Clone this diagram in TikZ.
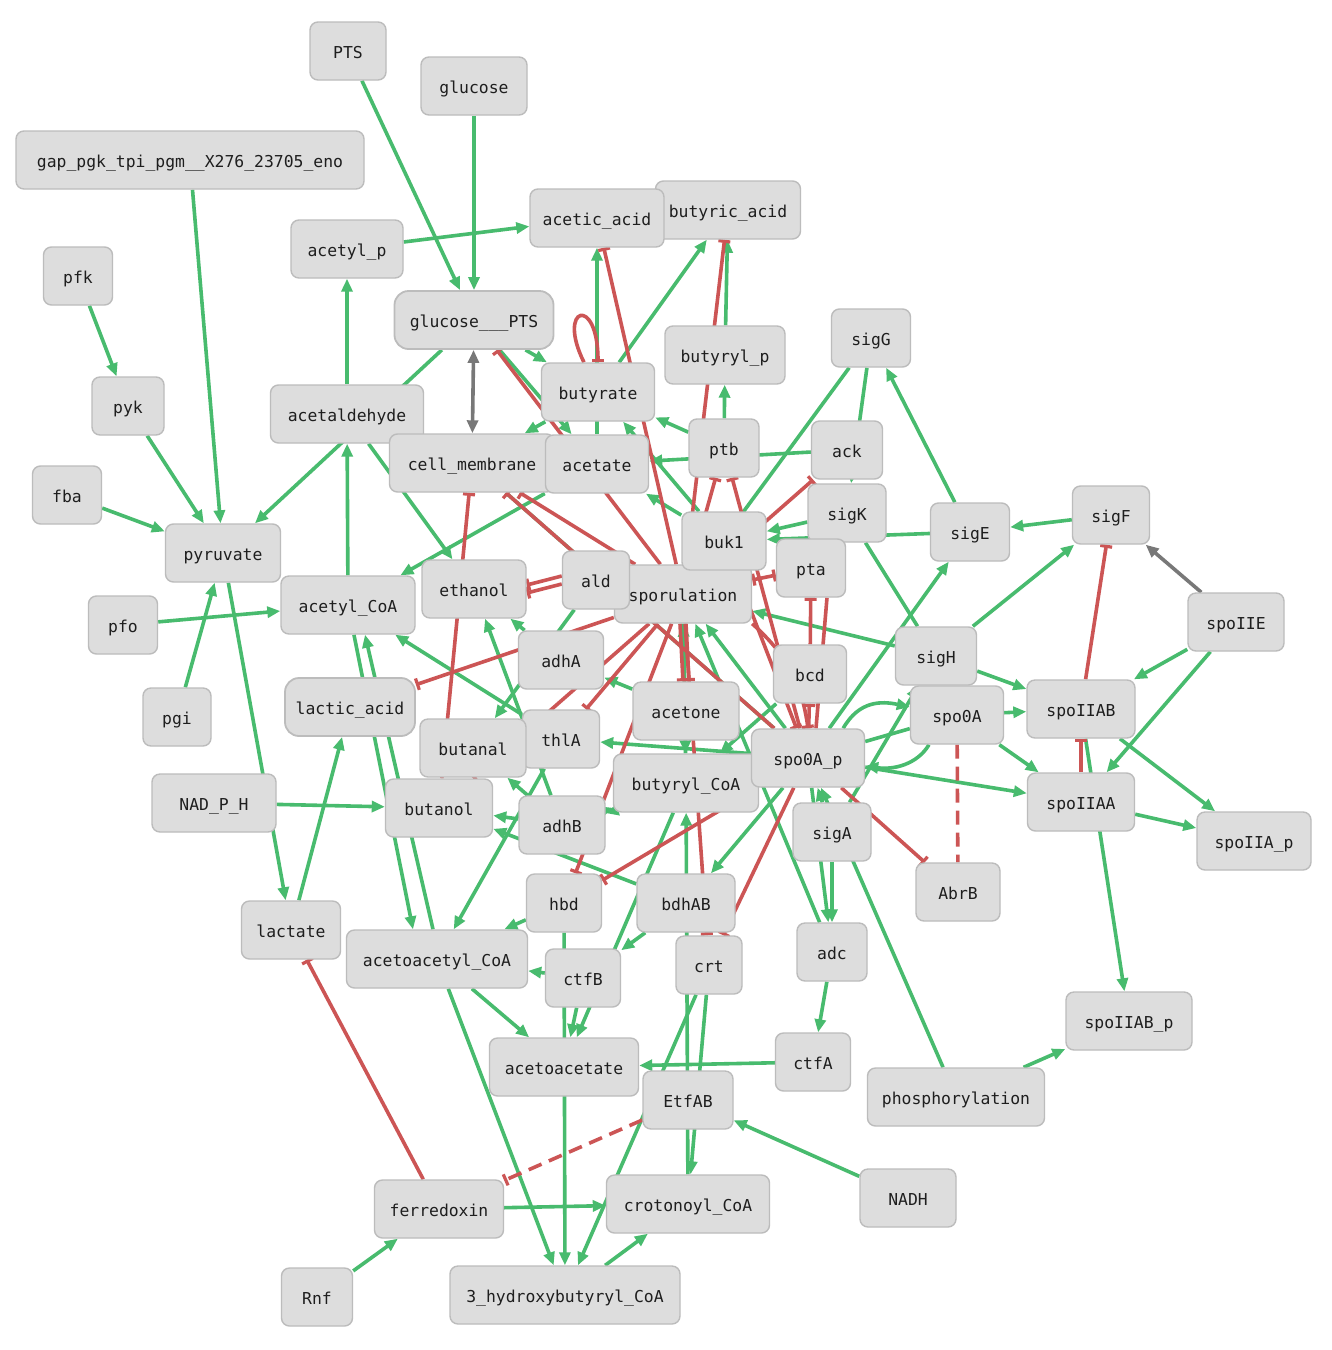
\documentclass[tikz,border=0pt]{standalone}
\usepackage{fontspec}
\setmonofont{DejaVu Sans Mono}
\usetikzlibrary{arrows.meta,backgrounds}
\definecolor{eg}{RGB}{72,187,110}
\definecolor{er}{RGB}{204,85,85}
\definecolor{egr}{RGB}{120,120,120}
\definecolor{nfill}{RGB}{221,221,221}
\definecolor{nbord}{RGB}{188,188,188}
\definecolor{ntext}{RGB}{30,30,30}
\begin{document}
\begin{tikzpicture}[x=0.5pt,y=-0.5pt,
  nd/.style={draw=nbord, fill=nfill, rounded corners=4pt, line width=0.7pt, minimum height=29pt, inner sep=0pt, text height=7pt, text depth=0pt, text=ntext, font=\ttfamily\fontsize{8.2}{9}\selectfont},
  ndc/.style={nd, rounded corners=7pt, line width=0.9pt},
  act/.style={draw=eg, line width=1.8pt, -{Triangle[length=6.5pt,width=5.5pt]}},
  ln/.style={draw=eg, line width=1.8pt},
  inh/.style={draw=er, line width=1.8pt, -{Bar[width=6pt,line width=1.6pt]}},
  inhb/.style={draw=er, line width=1.8pt, {Bar[width=6pt,line width=1.6pt]}-{Bar[width=6pt,line width=1.6pt]}},
  rln/.style={draw=er, line width=1.8pt},
  inhd/.style={inh, dash pattern=on 7pt off 4pt},
  rdash/.style={rln, dash pattern=on 7pt off 4pt},
  gra/.style={draw=egr, line width=1.8pt, -{Triangle[length=6.5pt,width=5.5pt]}},
  grab/.style={draw=egr, line width=1.8pt, {Triangle[length=6.5pt,width=5.5pt]}-{Triangle[length=6.5pt,width=5.5pt]}}
]
\useasboundingbox (0,0) rectangle (1332,1350);

% nodes
\node[nd, minimum width=38pt] (PTS) at (348,51) {PTS};
\node[nd, minimum width=53pt] (glucose) at (474,86) {glucose};
\node[nd, minimum width=174pt] (gap) at (190,160) {gap\_pgk\_tpi\_pgm\_\_X276\_23705\_eno};
\node[nd, minimum width=72.5pt] (butyric_acid) at (728,210) {butyric\_acid};
\node[nd, minimum width=67pt] (acetic_acid) at (597,218) {acetic\_acid};
\node[nd, minimum width=56pt] (acetyl_p) at (347,249) {acetyl\_p};
\node[nd, minimum width=34.5pt] (pfk) at (78,276) {pfk};
\node[ndc, minimum width=79.5pt] (glucose___PTS) at (474,320) {glucose\_\_\_PTS};
\node[nd, minimum width=60pt] (butyryl_p) at (725,355) {butyryl\_p};
\node[nd, minimum width=39.5pt] (sigG) at (871,338) {sigG};
\node[nd, minimum width=36pt] (pyk) at (128,406) {pyk};
\node[nd, minimum width=56.5pt] (butyrate) at (598,392) {butyrate};
\node[nd, minimum width=76.5pt] (acetaldehyde) at (347,414) {acetaldehyde};
\node[nd, minimum width=35pt] (ptb) at (724,448) {ptb};
\node[nd, minimum width=35.5pt] (ack) at (847,450) {ack};
\node[nd, minimum width=82.5pt] (cell_membrane) at (472,463) {cell\_membrane};
\node[nd, minimum width=51.5pt] (acetate) at (597,464) {acetate};
\node[nd, minimum width=34.5pt] (fba) at (67,495) {fba};
\node[nd, minimum width=39pt] (sigK) at (847,513) {sigK};
\node[nd, minimum width=39.5pt] (sigE) at (970,532) {sigE};
\node[nd, minimum width=38.5pt] (sigF) at (1111,515) {sigF};
\node[nd, minimum width=57.5pt] (pyruvate) at (223,553) {pyruvate};
\node[nd, minimum width=68.5pt] (sporulation) at (683,594) {sporulation};
\node[nd, minimum width=42pt] (buk1) at (724,541) {buk1};
\node[nd, minimum width=34.5pt] (pta) at (811,568) {pta};
\node[nd, minimum width=33.5pt] (ald) at (596,580) {ald};
\node[nd, minimum width=52pt] (ethanol) at (474,589) {ethanol};
\node[nd, minimum width=67pt] (acetyl_CoA) at (348,605) {acetyl\_CoA};
\node[nd, minimum width=34.5pt] (pfo) at (123,625) {pfo};
\node[nd, minimum width=48pt] (spoIIE) at (1236,622) {spoIIE};
\node[nd, minimum width=40.5pt] (sigH) at (936,656) {sigH};
\node[nd, minimum width=42.5pt] (adhA) at (561,660) {adhA};
\node[nd, minimum width=36.5pt] (bcd) at (810,674) {bcd};
\node[nd, minimum width=46.5pt] (spo0A) at (957,715) {spo0A};
\node[nd, minimum width=54pt] (spoIIAB) at (1081,709) {spoIIAB};
\node[ndc, minimum width=65pt] (lactic_acid) at (350,707) {lactic\_acid};
\node[nd, minimum width=53pt] (acetone) at (686,711) {acetone};
\node[nd, minimum width=34pt] (pgi) at (177,717) {pgi};
\node[nd, minimum width=38.5pt] (thlA) at (561,739) {thlA};
\node[nd, minimum width=53pt] (butanal) at (473,748) {butanal};
\node[nd, minimum width=72.5pt] (butyryl_CoA) at (686,783) {butyryl\_CoA};
\node[nd, minimum width=56.5pt] (spo0A_p) at (808,758) {spo0A\_p};
\node[nd, minimum width=62pt] (NAD_P_H) at (214,803) {NAD\_P\_H};
\node[nd, minimum width=53.5pt] (butanol) at (439,808) {butanol};
\node[nd, minimum width=53.5pt] (spoIIAA) at (1081,802) {spoIIAA};
\node[nd, minimum width=43pt] (adhB) at (562,825) {adhB};
\node[nd, minimum width=39pt] (sigA) at (832,832) {sigA};
\node[nd, minimum width=57pt] (spoIIA_p) at (1254,841) {spoIIA\_p};
\node[nd, minimum width=42pt] (AbrB) at (958,892) {AbrB};
\node[nd, minimum width=37.5pt] (hbd) at (564,903) {hbd};
\node[nd, minimum width=49pt] (bdhAB) at (686,903) {bdhAB};
\node[nd, minimum width=49.5pt] (lactate) at (291,930) {lactate};
\node[nd, minimum width=90.5pt] (acetoacetyl_CoA) at (437,959) {acetoacetyl\_CoA};
\node[nd, minimum width=35pt] (adc) at (832,952) {adc};
\node[nd, minimum width=33pt] (crt) at (709,965) {crt};
\node[nd, minimum width=37.5pt] (ctfB) at (583,978) {ctfB};
\node[nd, minimum width=63pt] (spoIIAB_p) at (1129,1021) {spoIIAB\_p};
\node[nd, minimum width=37.5pt] (ctfA) at (813,1062) {ctfA};
\node[nd, minimum width=74.5pt] (acetoacetate) at (564,1067) {acetoacetate};
\node[nd, minimum width=88.5pt] (phosphorylation) at (956,1097) {phosphorylation};
\node[nd, minimum width=45pt] (EtfAB) at (688,1100) {EtfAB};
\node[nd, minimum width=48pt] (NADH) at (908,1198) {NADH};
\node[nd, minimum width=64.5pt] (ferredoxin) at (439,1209) {ferredoxin};
\node[nd, minimum width=81.5pt] (crotonoyl_CoA) at (688,1204) {crotonoyl\_CoA};
\node[nd, minimum width=35.5pt] (Rnf) at (317,1297) {Rnf};
\node[nd, minimum width=115pt] (hbcoa) at (565,1295) {3\_hydroxybutyryl\_CoA};

\begin{pgfonlayer}{background}
\fill[white] (0,0) rectangle (1332,1350);
% green activations
\draw[act] (PTS) -- (glucose___PTS);
\draw[act] (glucose) -- (glucose___PTS);
\draw[act] (gap) -- (pyruvate);
\draw[act] (acetyl_p) -- (acetic_acid);
\draw[act] (pfk) -- (pyk);
\draw[act] (pyk) -- (pyruvate);
\draw[act] (fba) -- (pyruvate);
\draw[act] (pfo) -- (acetyl_CoA);
\draw[act] (pgi) -- (pyruvate);
\draw[act] (acetaldehyde) -- (acetyl_p);
\draw[act] (glucose___PTS) -- (pyruvate);
\draw[act] (acetyl_CoA) -- (acetaldehyde);
\draw[act] (acetaldehyde) -- (ethanol);
\draw[act] (acetate) -- (acetyl_CoA);
\draw[act] (acetate) -- (acetic_acid);
\draw[act] (butyrate) -- (butyric_acid);
\draw[act] (butyryl_p) -- (butyric_acid);
\draw[act] (ptb) -- (butyryl_p);
\draw[act] (ptb) -- (butyrate);
\draw[act] (ack) -- (acetate);
\draw[act] (buk1) -- (butyrate);
\draw[act] (buk1) -- (acetate);
\draw[act] (glucose___PTS) -- (butyrate);
\draw[act] (glucose___PTS) -- (acetate);
\draw[act] (butyrate) -- (cell_membrane);
\draw[act] (sigE) -- (sigG);
\draw[act] (sigF) -- (sigE);
\draw[act] (spoIIE) -- (spoIIAB);
\draw[act] (spoIIE) -- (spoIIAA);
\draw[act] (spoIIAB) -- (spoIIA_p);
\draw[act] (spoIIAA) -- (spoIIA_p);
\draw[act] (spoIIAB) -- (spoIIAB_p);
\draw[act] (phosphorylation) -- (spoIIAB_p);
\draw[act] (sigH) -- (spoIIAB);
\draw[act] (sigH) -- (sigF);
\draw[act] (spo0A) -- (spoIIAB);
\draw[act] (spo0A) -- (spoIIAA);
\draw[act] (spo0A_p) -- (spoIIAA);
\draw[act] ([xshift=-11pt]spo0A_p.north east) .. controls +(8pt,14pt) and +(-14pt,3pt) .. ([yshift=4pt]spo0A.west);
\draw[act] ([xshift=-14pt]spo0A.south) .. controls +(-6pt,-10pt) and +(14pt,-2pt) .. ([yshift=-4pt]spo0A_p.east);
\draw[ln] (spo0A) -- (spo0A_p);
\draw[act] (spo0A_p) -- (sigE);
\draw[act] (sigA) -- (sigH);
\draw[act] (sigH) -- (sporulation);
\draw[act] (sigK) -- (buk1);
\draw[act] (sigE) -- (buk1);
\draw[act] (adhA) -- (ethanol);
\draw[act] (adhB) -- (ethanol);
\draw[act] (ald) -- (butanal);
\draw[act] (thlA) -- (acetyl_CoA);
\draw[act] (acetyl_CoA) -- ([xshift=-12pt]acetoacetyl_CoA.north);
\draw[act] ([xshift=-2pt]acetoacetyl_CoA.north) -- ([xshift=8.5pt]acetyl_CoA.south);
\draw[act] (lactate) -- (lactic_acid);
\draw[act] (pyruvate) -- (lactate);
\draw[act] (NAD_P_H) -- (butanol);
\draw[act] (Rnf) -- (ferredoxin);
\draw[act] (ferredoxin) -- (crotonoyl_CoA);
\draw[act] (NADH) -- (EtfAB);
\draw[act] (crotonoyl_CoA) -- (butyryl_CoA);
\draw[act] (crt) -- (crotonoyl_CoA);
\draw[act] (crt) -- (hbcoa);
\draw[act] (hbcoa) -- (crotonoyl_CoA);
\draw[act] (acetoacetyl_CoA) -- (hbcoa);
\draw[act] (hbd) -- (hbcoa);
\draw[act] (acetoacetyl_CoA) -- (acetoacetate);
\draw[act] (ctfB) -- (acetoacetate);
\draw[act] (butyryl_CoA) -- (acetoacetate);
\draw[act] (ctfB) -- (acetoacetyl_CoA);
\draw[act] (ctfA) -- (acetoacetate);
\draw[act] (adc) -- (ctfA);
\draw[act] (sigA) -- (adc);
\draw[act] (spo0A_p) -- (adc);
\draw[act] (sigA) -- (spo0A_p);
\draw[act] (phosphorylation) -- (spo0A_p);
\draw[act] (hbd) -- (acetoacetyl_CoA);
\draw[act] (thlA) -- (acetoacetyl_CoA);
\draw[act] (adhB) -- (butanol);
\draw[act] (bdhAB) -- (butanol);
\draw[act] (adhB) -- (butanal);
\draw[act] (adhB) -- (butyryl_CoA);
\draw[act] (spo0A_p) -- (thlA);
\draw[act] (spo0A_p) -- (sporulation);
\draw[act] (butyryl_CoA) -- (sporulation);
\draw[act] (acetone) -- (adhA);
\draw[act] (bdhAB) -- (ctfB);
\draw[act] (spo0A_p) -- (bdhAB);
\draw[act] (spo0A_p) -- (adhB);
\draw[act] (sigG) -- (sporulation);
\draw[act] (sigG) -- (sigK);
\draw[ln] (sigK) -- (sigH);
\draw[ln] (cell_membrane) -- (spo0A_p);
\draw[act] (bcd) -- (butyryl_CoA);
\draw[act] (sporulation) -- (butyryl_CoA);
\draw[act] (adc) -- (sporulation);
% red inhibitions
\draw[inh] (sporulation) -- (acetic_acid);
\draw[inh] (sporulation) -- (butyric_acid);
\draw[inh] ([xshift=-7pt]butyrate.north) .. controls +(-14pt,28pt) and +(0pt,34pt) .. (butyrate.north);
\draw[inh] (sporulation) -- (ack);
\draw[inh] (sporulation) -- (ptb);
\draw[inh] (spo0A_p) -- (ptb);
\draw[inhb] (sporulation) -- (pta);
\draw[inh] (bcd) -- (pta);
\draw[rln] ([xshift=8pt]pta.south) -- ([xshift=4pt]spo0A_p.north);
\draw[inh] (spo0A_p) -- (bcd);
\draw[inh] (sporulation.south east) to[bend left=20] (spo0A_p.north);
\draw[inh] (buk1) -- (spo0A_p);
\draw[inh] (spoIIAB) -- (sigF);
\draw[inh] (spoIIAA) -- (spoIIAB);
\draw[inh] (spo0A_p) -- (AbrB);
\draw[rdash] (spo0A) -- (AbrB);
\draw[inh] ([xshift=-1.5pt]sporulation.south) -- ([xshift=-1.5pt]acetone.north);
\draw[inh] ([xshift=1.5pt]sporulation.south) -- ([xshift=1.5pt]acetone.north);
\draw[inh] ([yshift=2pt]ald.west) -- ([yshift=2pt]ethanol.east);
\draw[inh] ([yshift=-2pt]ald.west) -- ([yshift=-2pt]ethanol.east);
\draw[inh] (sporulation) -- (glucose___PTS);
\draw[inh] (sporulation) -- (cell_membrane);
\draw[inh] (spo0A_p) -- (cell_membrane);
\draw[inh] (butanol) -- (cell_membrane);
\draw[inh] (sporulation) -- (lactic_acid);
\draw[inh] (ferredoxin) -- (lactate);
\draw[inhd] (EtfAB) -- (ferredoxin);
\draw[inh] (spo0A_p) -- (hbd);
\draw[inh] (sporulation) -- (hbd);
\draw[inh] (sporulation) -- (thlA);
\draw[inh] (sporulation) -- (butanol);
\draw[inh] (spo0A_p) -- (crt);
\draw[inh] (sporulation) -- (crt);
% gray
\draw[grab] (glucose___PTS) -- (cell_membrane);
\draw[gra] (spoIIE) -- (sigF);
\end{pgfonlayer}
\end{tikzpicture}
\end{document}
